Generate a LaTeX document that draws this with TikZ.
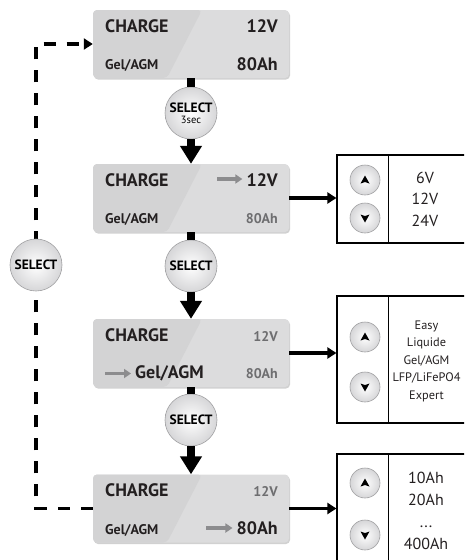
\documentclass[tikz,border=0pt]{standalone}
\usepackage{fontspec}
\setmainfont{PT Sans}
\usetikzlibrary{arrows.meta,shadows}
\definecolor{scrL}{RGB}{211,211,212}
\definecolor{scrR}{RGB}{220,220,221}
\definecolor{txtdark}{RGB}{35,31,32}
\definecolor{txtgray}{RGB}{110,110,112}
\definecolor{arrgray}{RGB}{140,140,142}
\definecolor{btnedge}{RGB}{160,160,162}
\definecolor{btnouter}{RGB}{214,214,216}
\tikzset{
  screen/.style={rounded corners=4pt, minimum width=196pt, minimum height=68pt, inner sep=0pt, fill=scrR,
    drop shadow={shadow xshift=1pt, shadow yshift=-1.5pt, opacity=0.18, fill=black},
    path picture={\fill[scrL] (path picture bounding box.south west) -- (path picture bounding box.north west)
      -- ([xshift=109pt]path picture bounding box.north west) -- ([xshift=74pt]path picture bounding box.south west) -- cycle;}},
  big/.style={font=\fontsize{18}{20}\selectfont\bfseries, text=txtdark, inner sep=0pt},
  small/.style={font=\fontsize{14}{16}\selectfont\bfseries, text=txtdark, inner sep=0pt},
  smallgray/.style={small, text=txtgray},
  selbtn/.style={circle, minimum size=52pt, inner sep=0pt, draw=btnedge, line width=0.6pt,
    inner color=white, outer color=btnouter, align=center, text=black,
    font=\fontsize{13.5}{12}\selectfont\bfseries},
  stem/.style={line width=8pt, draw=black},
  bigarrow/.style={line width=8pt, -{Triangle[width=21pt,length=18pt]}},
  sidearrow/.style={line width=3.5pt, -{Triangle[width=11pt,length=9pt]}},
  dashline/.style={line width=3.5pt, dash pattern=on 12pt off 11pt, -{Triangle[width=11pt,length=9pt]}},
  grayarrow/.style={line width=3.5pt, draw=arrgray, -{Triangle[width=9pt,length=7pt]}},
  panel/.style={draw=black, line width=1.2pt, inner sep=0pt, minimum width=129pt},
  divider/.style={draw=black, line width=1.2pt},
  udbtn/.style={circle, minimum size=30pt, inner sep=0pt, draw=btnedge, line width=0.6pt,
    inner color=white, outer color=btnouter},
  upbtn/.style={udbtn, path picture={\fill[black]
      ([shift={(0pt,4.5pt)}]path picture bounding box.center)
      -- ([shift={(4.5pt,-3.5pt)}]path picture bounding box.center)
      -- ([shift={(0pt,-2pt)}]path picture bounding box.center)
      -- ([shift={(-4.5pt,-3.5pt)}]path picture bounding box.center) -- cycle;}},
  downbtn/.style={udbtn, path picture={\fill[black]
      ([shift={(0pt,-4.5pt)}]path picture bounding box.center)
      -- ([shift={(4.5pt,3.5pt)}]path picture bounding box.center)
      -- ([shift={(0pt,2pt)}]path picture bounding box.center)
      -- ([shift={(-4.5pt,3.5pt)}]path picture bounding box.center) -- cycle;}},
  ptext/.style={align=center, text=txtdark, inner sep=0pt}
}
\begin{document}
\begin{tikzpicture}[x=1pt,y=-1pt]
\useasboundingbox (0,0) rectangle (464,560);
\clip (0,0) rectangle (464,560);

% screens
\node[screen] (b1) at (191,44) {};
\node[screen] (b2) at (191,198) {};
\node[screen] (b3) at (191,353) {};
\node[screen] (b4) at (191,508.5) {};

% feedback dashed loop
\coordinate (cBL) at (36,508.5);
\coordinate (cTL) at (36,44);
\draw[dashline] (b4.west) -- (cBL) -- (cTL) -- (b1.west);
\node[selbtn] (sL) at (36,265) {SELECT};

% select buttons and main arrows
\node[selbtn] (s1) at (191,113) {SELECT\\[-1pt]{\fontsize{10.5}{10}\selectfont\mdseries 3sec}};
\node[selbtn] (s2) at (191,266) {SELECT};
\node[selbtn] (s3) at (191,420) {SELECT};
\draw[stem] (b1.south) -- (s1.north);
\draw[bigarrow] (s1.south) -- (b2.north);
\draw[stem] (b2.south) -- (s2.north);
\draw[bigarrow] (s2.south) -- (b3.north);
\draw[stem] (b3.south) -- (s3.north);
\draw[bigarrow] (s3.south) -- (b4.north);

% screen 1
\node[big, anchor=base west] (c1) at (105,32) {CHARGE};
\node[big, anchor=base east] (v1) at (278,32) {12V};
\node[small, anchor=base west] (g1) at (105,69.5) {Gel/AGM};
\node[big, anchor=base east] (a1) at (278,70) {80Ah};

% screen 2
\node[big, anchor=base west] (c2) at (105,186) {CHARGE};
\node[big, anchor=base east] (v2) at (278,186) {12V};
\node[small, anchor=base west] (g2) at (105,223.5) {Gel/AGM};
\node[smallgray, anchor=base east] (a2) at (278,223.5) {80Ah};
\draw[grayarrow] ([shift={(-29pt,7pt)}]v2.base west) -- ([shift={(-4pt,7pt)}]v2.base west);

% screen 3
\node[big, anchor=base west] (c3) at (105,341) {CHARGE};
\node[smallgray, anchor=base east] (v3) at (278,341) {12V};
\node[big, anchor=base west] (g3) at (135,378.5) {Gel/AGM};
\node[smallgray, anchor=base east] (a3) at (278,378.5) {80Ah};
\draw[grayarrow] ([shift={(-30pt,5pt)}]g3.base west) -- ([shift={(-4pt,5pt)}]g3.base west);

% screen 4
\node[big, anchor=base west] (c4) at (105,496) {CHARGE};
\node[smallgray, anchor=base east] (v4) at (278,496) {12V};
\node[small, anchor=base west] (g4) at (105,534) {Gel/AGM};
\node[big, anchor=base east] (a4) at (278,534) {80Ah};
\draw[grayarrow] ([shift={(-30pt,6pt)}]a4.base west) -- ([shift={(-4pt,6pt)}]a4.base west);

% panels
\node[panel, minimum height=88pt] (p1) at (401.5,199) {};
\node[panel, minimum height=127pt] (p2) at (401.5,359.5) {};
\node[panel, minimum height=109pt] (p3) at (401.5,508.5) {};
\draw[divider] ([xshift=52pt]p1.north west) -- ([xshift=52pt]p1.south west);
\draw[divider] ([xshift=52pt]p2.north west) -- ([xshift=52pt]p2.south west);
\draw[divider] ([xshift=52pt]p3.north west) -- ([xshift=52pt]p3.south west);

\draw[sidearrow] (b2.east) -- (b2.east -| p1.west);
\draw[sidearrow] (b3.east) -- (b3.east -| p2.west);
\draw[sidearrow] (b4.east) -- (b4.east -| p3.west);

\node[upbtn] (u1) at (365,180) {};
\node[downbtn] (d1) at (365,218) {};
\node[upbtn] (u2) at (365,337) {};
\node[downbtn] (d2) at (365,387) {};
\node[upbtn] (u3) at (365,483) {};
\node[downbtn] (d3) at (365,535) {};

\node[ptext, font=\fontsize{16}{21.5}\selectfont] (t1) at (425,199) {6V\\12V\\24V};
\node[ptext, font=\fontsize{12.3}{17.5}\selectfont] (t2) at (426.5,361) {Easy\\Liquide\\Gel/AGM\\LFP/LiFePO4\\Expert};
\node[ptext, font=\fontsize{16}{22}\selectfont] (t3) at (426,511) {10Ah\\20Ah\\...\\400Ah};
\end{tikzpicture}
\end{document}
